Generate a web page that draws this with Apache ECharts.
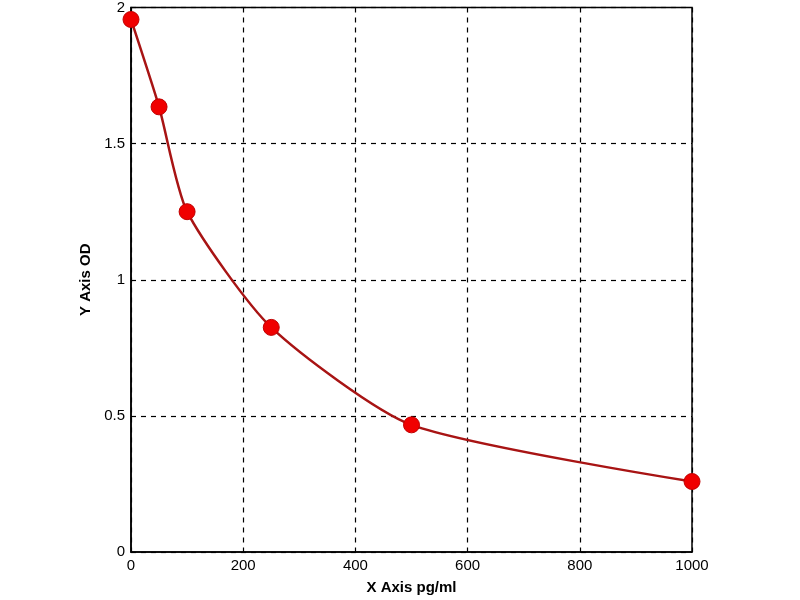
<!DOCTYPE html>
<html>
<head>
<meta charset="utf-8">
<script src="https://cdn.jsdelivr.net/npm/echarts@6/dist/echarts.min.js"></script>
<style>html,body{margin:0;padding:0;background:#fff;}#c{width:800px;height:600px;}</style>
</head>
<body>
<div id="c"></div>
<script>
var concentrations = [0, 50, 100, 250, 500, 1000];
var odValues = [1.956, 1.635, 1.25, 0.825, 0.467, 0.259];
var xTicks = [0, 200, 400, 600, 800, 1000];
var yTicks = [0, 0.5, 1, 1.5, 2];
var xName = 'X Axis pg/ml';
var yName = 'Y Axis OD';

var points = concentrations.map(function (c, i) { return [c, odValues[i]]; });
var font = '"Liberation Sans", Arial, sans-serif';
var chart = echarts.init(document.getElementById('c'));
chart.setOption({
  animation: false,
  grid: { left: 131, right: 108, top: 7, bottom: 44, show: true, borderColor: '#000', borderWidth: 1.5, backgroundColor: '#fff' },
  xAxis: {
    type: 'value', min: xTicks[0], max: xTicks[xTicks.length - 1], interval: 200,
    name: xName, nameLocation: 'middle', nameGap: 28,
    nameTextStyle: { fontFamily: font, fontSize: 15, fontWeight: 'bold', color: '#000' },
    axisLine: { show: true, lineStyle: { color: '#000', width: 1.5 } },
    axisTick: { show: false },
    axisLabel: { fontFamily: font, fontSize: 15, color: '#000', margin: 6, formatter: function (v) { return String(v); } },
    splitLine: { show: true, lineStyle: { color: '#000', type: [5, 5], width: 1.2 } }
  },
  yAxis: {
    type: 'value', min: yTicks[0], max: yTicks[yTicks.length - 1], interval: 0.5,
    name: yName, nameLocation: 'middle', nameGap: 29,
    nameTextStyle: { fontFamily: font, fontSize: 15, fontWeight: 'bold', color: '#000' },
    axisLine: { show: true, lineStyle: { color: '#000', width: 1.5 } },
    axisTick: { show: false },
    axisLabel: { fontFamily: font, fontSize: 15, color: '#000', margin: 6, formatter: function (v) { return String(v); } },
    splitLine: { show: true, lineStyle: { color: '#000', type: [5, 5], width: 1.2 } }
  },
  series: [{
    type: 'line',
    data: points,
    smooth: 0.22,
    symbol: 'circle',
    symbolSize: 16,
    itemStyle: { color: '#f00000', borderColor: '#c00000', borderWidth: 1 },
    lineStyle: { color: '#a81414', width: 2.5 },
    z: 5
  }]
});
</script>
</body>
</html>
